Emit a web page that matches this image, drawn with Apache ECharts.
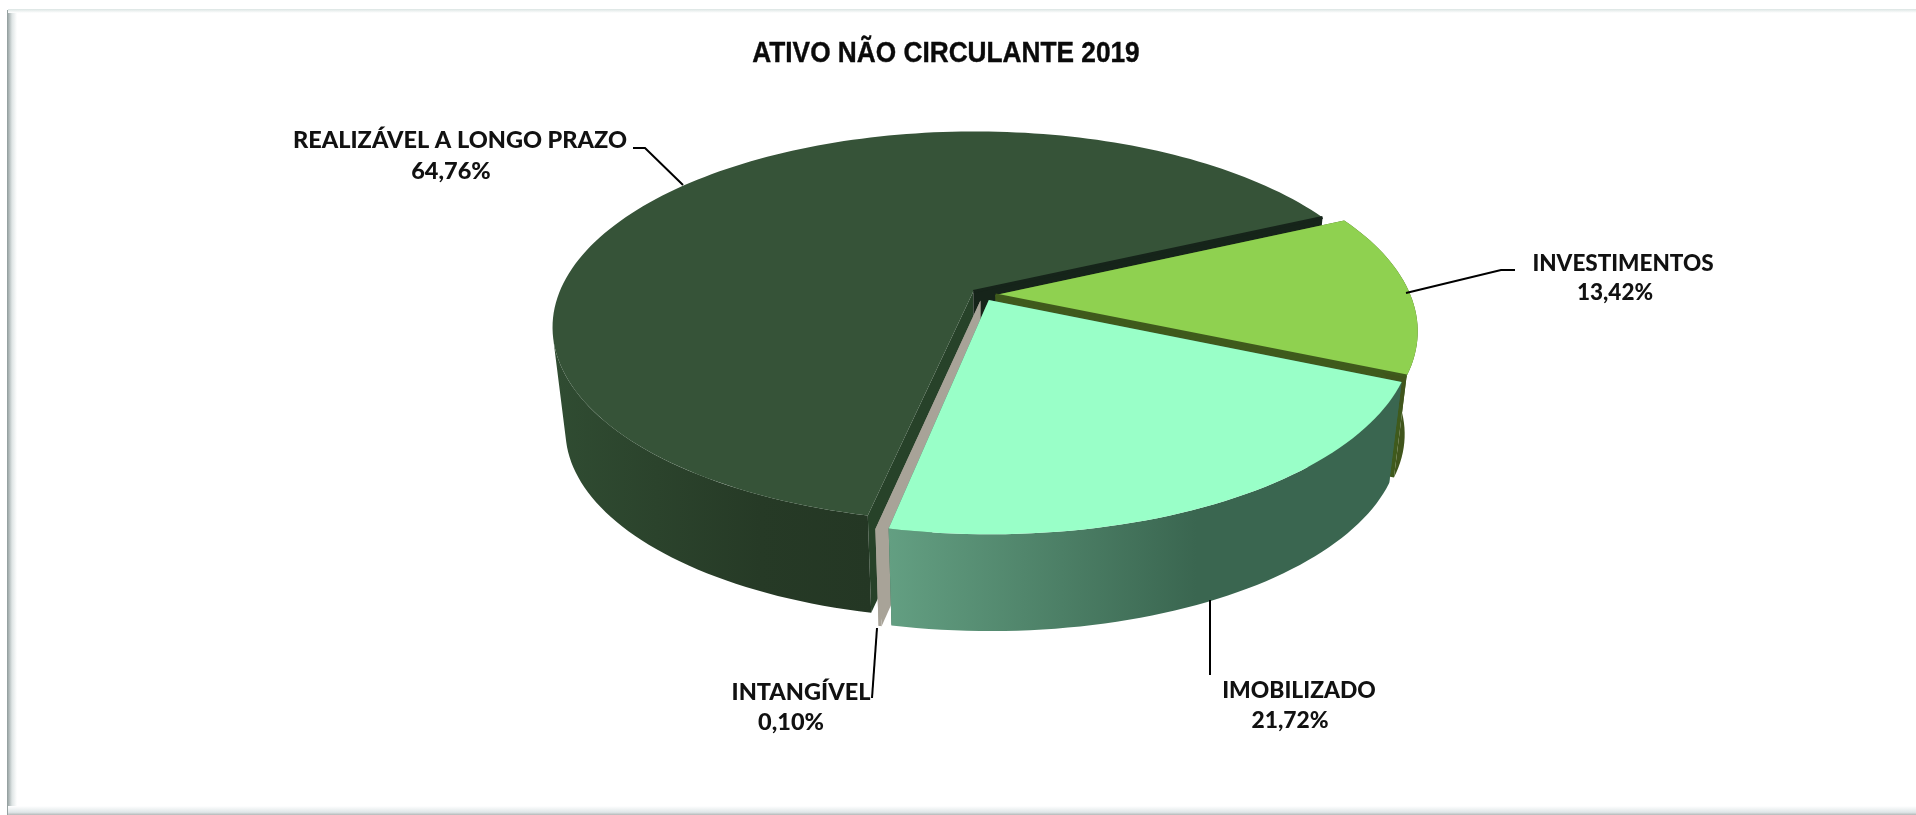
<!DOCTYPE html>
<html><head><meta charset="utf-8">
<style>html,body{margin:0;padding:0;background:#fff}#c{width:1916px;height:815px}</style>
<script src="https://cdn.jsdelivr.net/npm/echarts@6/dist/echarts.min.js"></script>
</head><body><div id="c"></div>
<script>
const categories = ['REALIZÁVEL A LONGO PRAZO', 'INVESTIMENTOS', 'IMOBILIZADO', 'INTANGÍVEL'];
const values = [64.76, 13.42, 21.72, 0.10];
const titleText = 'ATIVO NÃO CIRCULANTE 2019';

// Layout of the perspective pie (clockwise, degrees from the back of the disc)
const startAngle = -168.1;
const geom = {ax: 983, ay: 295, rx: 415, ry: 190, p: 0.18, explode: 0.03, botScale: 0.97, botDrop: 104};
const drawRank = [0, 1, 3, 2];
const rimEndOfLongSlice = -104;
const edgeWidth = [3, 3, 0, 0];
const looks = [
  {top:'#365338', cutA:'#274229', cutB:'#16241a'},
  {top:'#8fd150', cutA:'#3f5a1c', cutB:'#3f5a1c'},
  {top:'#99ffc8', cutA:'#3a6650', cutB:'#3a6650'},
  {top:'#a8a398', cutA:'#a8a398', cutB:'#a8a398'}
];
const wallStops = [
  [[0,'#243724'],[0.35,'#263a26'],[1,'#304c32']],
  [[0,'#40551c'],[1,'#40551c']],
  [[0,'#639f82'],[0.6,'#3a6650'],[1,'#3a6650']],
  [[0,'#a8a398'],[1,'#a8a398']]
];
const labelLayout = [
  {size:23.5, lines:[[460,140],[451,171]], leader:[[633,148],[645,148],[683,185]]},
  {size:22.5, lines:[[1623,264],[1615,293]], leader:[[1406,293],[1501,270],[1515,270]]},
  {size:22.8, lines:[[1299,691],[1290,721]], leader:[[1210,600],[1210,675]]},
  {size:23.5, lines:[[801,692],[791,722]], leader:[[877,628],[872,698]]}
];
const labelFont = {fontFamily:'Lato', fontWeight:900, fill:'#111'};

const total = values.reduce((a,b)=>a+b,0);
function project(deg, mid, plane, radius){
  const t=deg*Math.PI/180, m=mid*Math.PI/180, g=geom;
  const U=Math.sin(t)*radius+g.explode*Math.sin(m), V=-Math.cos(t)*radius-g.explode*Math.cos(m);
  const w=1-g.p*V, s=plane?g.botScale:1, oy=plane?g.botDrop:0;
  return [g.ax+g.rx*s*U/w, g.ay+oy+g.ry*s*V/w];
}
function arc(a,b,mid,plane){
  const n=Math.max(2,Math.ceil(Math.abs(b-a)/1.5)), pts=[];
  for(let i=0;i<=n;i++) pts.push(project(a+(b-a)*i/n,mid,plane,1));
  return pts;
}
function renderSlice(params, api){
  const i=params.dataIndex, val=api.value(0);
  let before=0; for(let k=0;k<i;k++) before+=values[k];
  const a=startAngle+before/total*360, b=a+val/total*360, mid=(a+b)/2, L=looks[i], z=drawRank[i]*10;
  // only the part of the rim facing the viewer is drawn for the long slice
  const hi=i===0?rimEndOfLongSlice:b;
  const topArc=arc(a,b,mid,0), botArc=arc(a,b,mid,1);
  const rimTop=arc(a,hi,mid,0), rimBot=arc(a,hi,mid,1);
  const c0=project(0,mid,0,0), c1=project(0,mid,1,0);
  const grad=new echarts.graphic.LinearGradient(i===0?1:0,0,i===0?0:1,0,
    wallStops[i].map(s=>({offset:s[0],color:s[1]})));
  const poly=(points,fill,zz)=>({type:'polygon',z2:z+zz,shape:{points},style:{fill}});
  const kids=[
    poly([c0,topArc[0],botArc[0],c1],L.cutA,0),
    poly([c0,topArc[topArc.length-1],botArc[botArc.length-1],c1],L.cutB,0),
    poly(rimTop.concat(rimBot.slice().reverse()),grad,1),
    poly([c0].concat(topArc),L.top,2)
  ];
  if(edgeWidth[i]) kids.push({type:'polyline',z2:z+3,shape:{points:[c0,topArc[topArc.length-1]]},style:{stroke:L.cutB,lineWidth:edgeWidth[i],fill:null}});
  return {type:'group',children:kids};
}
function renderLabel(params, api){
  const i=params.dataIndex, val=api.value(0), Lb=labelLayout[i];
  const pct=val.toFixed(2).replace('.',',')+'%';
  return {type:'group',children:[
    {type:'polyline',shape:{points:Lb.leader},style:{stroke:'#000',lineWidth:2,fill:null}},
    {type:'text',style:Object.assign({text:categories[i],x:Lb.lines[0][0],y:Lb.lines[0][1],align:'center',verticalAlign:'middle',fontSize:Lb.size},labelFont)},
    {type:'text',style:Object.assign({text:pct,x:Lb.lines[1][0],y:Lb.lines[1][1],align:'center',verticalAlign:'middle',fontSize:Lb.size},labelFont)}
  ]};
}
const chart=echarts.init(document.getElementById('c'),null,{renderer:'canvas'});
const seriesData=values.map((v,i)=>({name:categories[i],value:[v]}));
chart.setOption({
  animation:false,
  backgroundColor:'#fff',
  graphic:[
    {type:'rect',z:0,shape:{x:7,y:10,width:10,height:805},style:{fill:new echarts.graphic.LinearGradient(0,0,1,0,[{offset:0,color:'#8e9a9a'},{offset:0.5,color:'#dfe5e5'},{offset:1,color:'#fff'}])}},
    {type:'rect',z:0,shape:{x:8,y:9,width:1908,height:4},style:{fill:new echarts.graphic.LinearGradient(0,0,0,1,[{offset:0,color:'#dbe5e3'},{offset:1,color:'#fff'}])}},
    {type:'rect',z:0,shape:{x:8,y:806,width:1908,height:9},style:{fill:new echarts.graphic.LinearGradient(0,0,0,1,[{offset:0,color:'#fff'},{offset:0.7,color:'#dfe6e8'},{offset:1,color:'#b4b8b8'}])}},
    {type:'text',z:5,x:946,y:54,scaleX:0.905,style:{text:titleText,align:'center',verticalAlign:'middle',fontFamily:'Liberation Sans',fontWeight:'bold',fontSize:29,fill:'#0a0a0a',stroke:'#0a0a0a',lineWidth:0.4}}
  ],
  series:[
    {type:'custom',coordinateSystem:'none',renderItem:renderSlice,data:seriesData,silent:true,z:2},
    {type:'custom',coordinateSystem:'none',renderItem:renderLabel,data:seriesData,silent:true,z:3}
  ]
});
</script></body></html>
